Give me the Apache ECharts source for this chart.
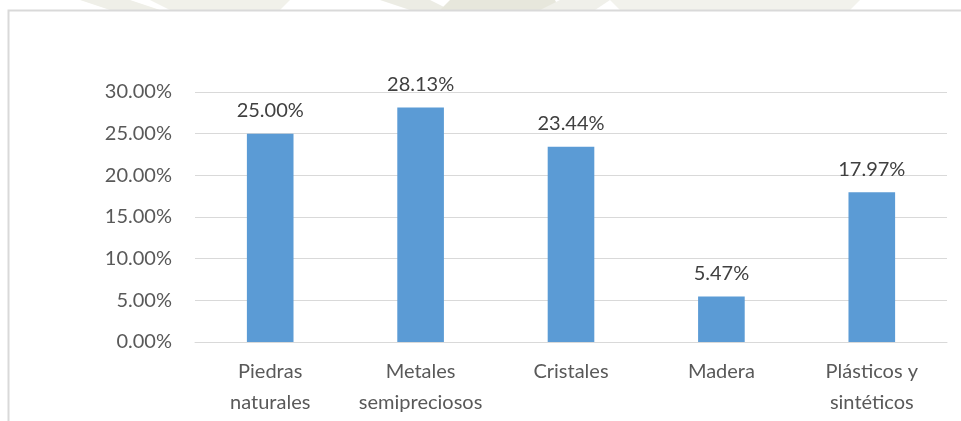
<!DOCTYPE html>
<html>
<head>
<meta charset="utf-8">
<style>
  html, body { margin: 0; padding: 0; background: #ffffff; }
  #chart { width: 961px; height: 421px; }
</style>
<script src="https://cdn.jsdelivr.net/npm/echarts@6/dist/echarts.min.js"></script>
</head>
<body>
<div id="chart"></div>
<script>
// Material categories and their share (%)
const categories = ['Piedras\nnaturales', 'Metales\nsemipreciosos', 'Cristales', 'Madera', 'Plásticos y\nsintéticos'];
const shares = [25.00, 28.13, 23.44, 5.47, 17.97];
const yTicks = [0, 5, 10, 15, 20, 25, 30];

const chart = echarts.init(document.getElementById('chart'), null, { renderer: 'canvas' });

const font = 'Lato, "Noto Sans", sans-serif';

chart.setOption({
  animation: false,
  backgroundColor: '#ffffff',
  graphic: [
    // faint background emblem showing above the frame
    { type: 'polygon', z: -10, shape: { points: [[80, 0], [130, 0], [160, 10], [110, 10]] }, style: { fill: '#efefe8' } },
    { type: 'polygon', z: -10, shape: { points: [[150, 0], [290, 0], [280, 10], [170, 10]] }, style: { fill: '#f1f1ea' } },
    { type: 'polygon', z: -10, shape: { points: [[380, 0], [430, 0], [450, 10], [410, 10]] }, style: { fill: '#ecece4' } },
    { type: 'polygon', z: -10, shape: { points: [[450, 0], [555, 0], [560, 10], [440, 10]] }, style: { fill: '#e7e7dc' } },
    { type: 'polygon', z: -10, shape: { points: [[560, 0], [610, 0], [595, 10], [540, 10]] }, style: { fill: '#f0f0ea' } },
    { type: 'polygon', z: -10, shape: { points: [[610, 0], [860, 0], [850, 10], [620, 10]] }, style: { fill: '#f2f2ec' } },
    // chart frame
    { type: 'rect', z: -5, shape: { x: 8.5, y: 10.5, width: 1000, height: 500 },
      style: { fill: '#ffffff', stroke: '#d9d9d9', lineWidth: 2 } }
  ],
  grid: { left: 195, right: 14, top: 92, bottom: 79 },
  xAxis: {
    type: 'category',
    data: categories,
    axisLine: { show: true, lineStyle: { color: '#d9d9d9', width: 1 } },
    axisTick: { show: false },
    axisLabel: {
      interval: 0,
      margin: 14,
      color: '#595959',
      fontFamily: font,
      fontSize: 20,
      lineHeight: 31
    }
  },
  yAxis: {
    type: 'value',
    min: yTicks[0],
    max: yTicks[yTicks.length - 1],
    interval: 5,
    axisLine: { show: false },
    axisTick: { show: false },
    splitLine: { lineStyle: { color: '#d9d9d9', width: 1 } },
    axisLabel: {
      margin: 23,
      color: '#595959',
      fontFamily: font,
      fontSize: 20,
      formatter: v => v.toFixed(2) + '%'
    }
  },
  series: [{
    type: 'bar',
    data: shares,
    barWidth: '31%',
    itemStyle: { color: '#5b9bd5' },
    label: {
      show: true,
      position: 'top',
      distance: 13,
      color: '#404040',
      fontFamily: font,
      fontSize: 20,
      formatter: p => p.value.toFixed(2) + '%'
    }
  }]
});
</script>
</body>
</html>
